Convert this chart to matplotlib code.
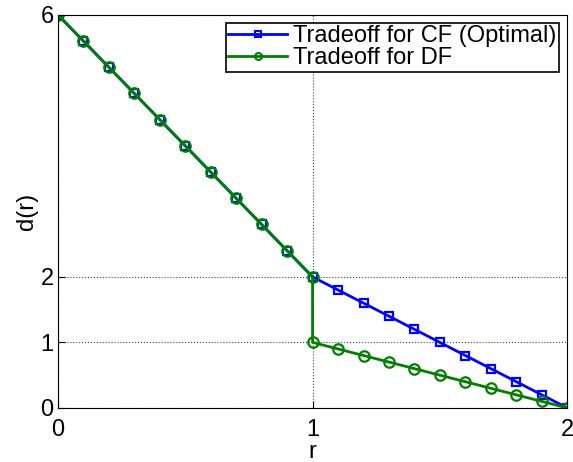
import matplotlib.pyplot as plt
import matplotlib
from matplotlib.lines import Line2D

matplotlib.rcParams.update({'font.family': 'Liberation Sans'})

r = [0, 0.1, 0.2, 0.3, 0.4, 0.5, 0.6, 0.7, 0.8, 0.9, 1.0,
     1.1, 1.2, 1.3, 1.4, 1.5, 1.6, 1.7, 1.8, 1.9, 2.0]
d_cf = [6, 5.6, 5.2, 4.8, 4.4, 4.0, 3.6, 3.2, 2.8, 2.4, 2.0,
        1.8, 1.6, 1.4, 1.2, 1.0, 0.8, 0.6, 0.4, 0.2, 0]
r_df = [0, 0.1, 0.2, 0.3, 0.4, 0.5, 0.6, 0.7, 0.8, 0.9, 1.0, 1.0,
        1.1, 1.2, 1.3, 1.4, 1.5, 1.6, 1.7, 1.8, 1.9, 2.0]
d_df = [6, 5.6, 5.2, 4.8, 4.4, 4.0, 3.6, 3.2, 2.8, 2.4, 2.0, 1.0,
        0.9, 0.8, 0.7, 0.6, 0.5, 0.4, 0.3, 0.2, 0.1, 0]
xticks = [0, 1, 2]
yticks = [0, 1, 2, 6]
labels = ['Tradeoff for CF (Optimal)', 'Tradeoff for DF']

blue, green = '#0000ff', '#007f00'

fig = plt.figure(figsize=(5.73, 4.62), dpi=100)
ax = fig.add_axes([0.101, 0.117, 0.889, 0.851])

ax.plot(r, d_cf, '-s', color=blue, lw=2, ms=6, mfc='none', mew=1.6)
ax.plot(r_df, d_df, '-o', color=green, lw=2, ms=7.5, mfc='none', mew=1.6)

ax.set_xlim(0, 2)
ax.set_ylim(0, 6)
ax.set_xticks(xticks)
ax.set_yticks(yticks)
ax.tick_params(direction='in', labelsize=17, length=5)
ax.tick_params(axis='x', pad=8)
ax.tick_params(axis='y', pad=3)
ax.grid(True, linestyle=':', color='#444444', lw=0.8)
ax.set_axisbelow(True)
ax.set_xlabel('r', fontsize=17, labelpad=0)
ax.set_ylabel('d(r)', fontsize=17, labelpad=2)

# legend markers are drawn small, as in the original
handles = [Line2D([], [], color=blue, lw=2, marker='s', ms=4, mfc='none', mew=1.5),
           Line2D([], [], color=green, lw=2, marker='o', ms=5, mfc='none', mew=1.5)]
leg = ax.legend(handles, labels, loc='upper right', fontsize=17, fancybox=False,
                framealpha=1, edgecolor='black', borderpad=0.1, handlelength=2.5,
                handletextpad=0.25, labelspacing=0.0, borderaxespad=0.35)
leg.get_frame().set_linewidth(1.2)

plt.savefig('out.png')
